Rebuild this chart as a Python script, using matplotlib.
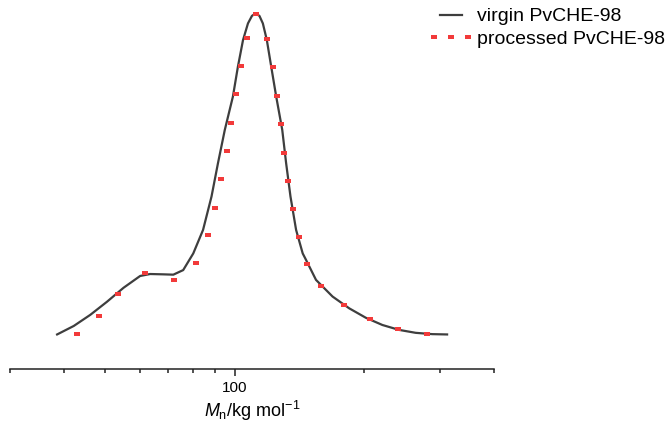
import matplotlib
matplotlib.use("Agg")
import matplotlib.pyplot as plt
from matplotlib.legend_handler import HandlerLine2D
from matplotlib.ticker import LogLocator, FixedLocator, NullFormatter, FixedFormatter

plt.rcParams['font.family'] = ['Liberation Sans', 'DejaVu Sans']
plt.rcParams['mathtext.fontset'] = 'custom'
plt.rcParams['mathtext.rm'] = 'Liberation Sans'
plt.rcParams['mathtext.it'] = 'Liberation Sans:italic'

# Molar mass distribution (normalised detector response)
virgin_M = [38.6, 42.2, 46.1, 50.4, 55.1, 60.2, 63.5, 68.1, 71.9, 75.8, 80.0,
            84.3, 88.2, 91.3, 94.7, 98.9, 101.6, 104.4, 107.2, 109.5, 111.7,
            114.0, 116.1, 118.6, 121.4, 124.7, 128.8, 131.5, 134.6, 138.7,
            143.7, 146.3, 154.3, 168.6, 184.3, 201.5, 220.1, 240.6, 263.0,
            287.3, 311.2]
virgin_w = [0.017, 0.043, 0.077, 0.117, 0.160, 0.196, 0.202, 0.201, 0.200,
            0.214, 0.265, 0.337, 0.439, 0.541, 0.643, 0.745, 0.837, 0.918,
            0.969, 0.992, 1.000, 0.992, 0.969, 0.918, 0.837, 0.745, 0.643,
            0.541, 0.439, 0.337, 0.265, 0.245, 0.184, 0.133, 0.097, 0.068,
            0.046, 0.031, 0.022, 0.018, 0.017]

processed_M = [42.9, 48.2, 53.5, 61.9, 72.3, 81.2, 86.5, 89.9, 92.8, 95.7,
               98.1, 100.5, 103.3, 106.6, 111.7, 119.0, 122.4, 125.1, 127.8,
               130.3, 133.1, 136.5, 140.6, 147.1, 158.2, 179.4, 206.1, 239.3,
               279.3]
processed_w = [0.019, 0.073, 0.141, 0.204, 0.185, 0.237, 0.320, 0.405, 0.492,
               0.579, 0.665, 0.752, 0.838, 0.924, 0.997, 0.921, 0.835, 0.748,
               0.661, 0.573, 0.487, 0.400, 0.315, 0.233, 0.164, 0.106, 0.063,
               0.033, 0.018]

labels = ['virgin PvCHE-98', 'processed PvCHE-98']
xlim = (30, 400)

fig = plt.figure(figsize=(6.72, 4.30), dpi=100)
ax = fig.add_axes([10 / 672, (430 - 368.5) / 430, 484 / 672, (368.5 - 8) / 430])

ax.plot(virgin_M, virgin_w, color='#3e3e3e', lw=1.6, label=labels[0],
        solid_joinstyle='round')
rect = [(-1, -0.65), (1, -0.65), (1, 0.65), (-1, 0.65), (-1, -0.65)]
proc_line, = ax.plot(processed_M, processed_w, linestyle='none', marker=rect,
                     markersize=4.3, color='#f23a3a', markeredgewidth=0,
                     label=labels[1])

ax.set_xscale('log')
ax.set_xlim(*xlim)
ax.set_ylim(-0.0872, 1.0162)

for s in ('left', 'right', 'top'):
    ax.spines[s].set_visible(False)
ax.spines['bottom'].set_linewidth(1.1)
ax.spines['bottom'].set_color('#222222')
ax.set_yticks([])

ax.xaxis.set_major_locator(FixedLocator([100]))
ax.xaxis.set_major_formatter(FixedFormatter(['100']))
ax.xaxis.set_minor_locator(LogLocator(base=10, subs=range(2, 10)))
ax.xaxis.set_minor_formatter(NullFormatter())
ax.tick_params(axis='x', which='major', direction='out', length=5, width=1.1,
               colors='#222222', labelsize=11, pad=4, labelcolor='black')
ax.tick_params(axis='x', which='minor', direction='out', length=3, width=1.1,
               colors='#222222')

ax.set_xlabel(r'$\mathit{M}_\mathrm{n}$/kg mol$^\mathrm{-1}$', fontsize=13,
              labelpad=3)

fig.legend(loc='upper left', bbox_to_anchor=(424 / 672, 1 + 2 / 430),
           frameon=False, fontsize=14, numpoints=3, handlelength=1.75,
           handletextpad=0.5, borderpad=0, labelspacing=0.25,
           handler_map={proc_line: HandlerLine2D(numpoints=3, marker_pad=0)})

fig.savefig('out.png', dpi=100)
